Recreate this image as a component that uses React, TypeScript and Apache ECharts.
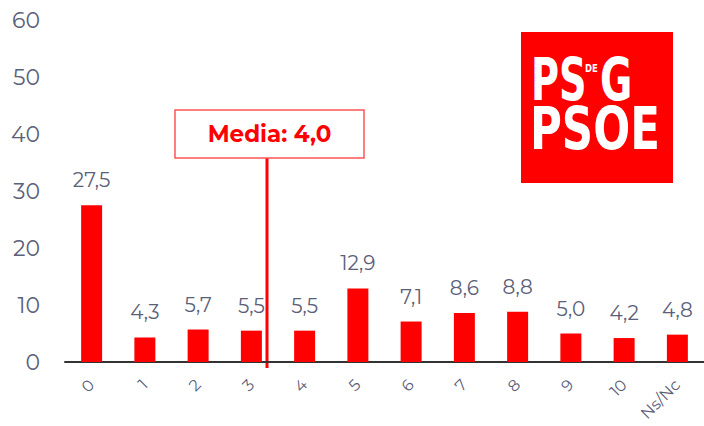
import React, { useEffect, useRef } from "react";
import * as echarts from "echarts";

const categories = ["0", "1", "2", "3", "4", "5", "6", "7", "8", "9", "10", "Ns/Nc"];
const values = [27.5, 4.3, 5.7, 5.5, 5.5, 12.9, 7.1, 8.6, 8.8, 5.0, 4.2, 4.8];
const meanLabel = "Media: 4,0";
const yMax = 60;
const yInterval = 10;

const GRAY = "#5b6079";
const RED = "#ff0000";
const FONT = "Montserrat, 'Noto Sans', Lato, sans-serif";
const LOGO_FONT = "'DejaVu Sans', sans-serif";

export default function App() {
  const ref = useRef<HTMLDivElement>(null);
  useEffect(() => {
    if (!ref.current) return;
    const chart = echarts.init(ref.current, null, { renderer: "svg" });
    const big = `bold 58px ${LOGO_FONT}`;
    chart.setOption({
      animation: false,
      backgroundColor: "#ffffff",
      grid: { left: 65, right: 0, top: 20, bottom: 64, containLabel: false },
      xAxis: {
        type: "category",
        data: categories,
        axisLine: { show: true, lineStyle: { color: "#333333", width: 2 } },
        axisTick: { show: false },
        axisLabel: { rotate: 45, color: GRAY, fontSize: 16, fontFamily: FONT, margin: 20, interval: 0 },
      },
      yAxis: {
        type: "value",
        min: 0,
        max: yMax,
        interval: yInterval,
        axisLine: { show: false },
        axisTick: { show: false },
        splitLine: { show: false },
        axisLabel: { color: GRAY, fontSize: 22, fontFamily: FONT, margin: 25 },
      },
      series: [
        {
          type: "bar",
          data: values,
          barWidth: 21,
          itemStyle: { color: RED },
          label: {
            show: true,
            position: "top",
            distance: 15,
            color: GRAY,
            fontSize: 20,
            fontFamily: FONT,
            formatter: (p: any) => Number(p.value).toFixed(1).replace(".", ","),
          },
        },
      ],
      graphic: [
        { type: "line", shape: { x1: 267, y1: 158, x2: 267, y2: 368 }, style: { stroke: RED, lineWidth: 3 } },
        {
          type: "rect",
          shape: { x: 175, y: 110, width: 189, height: 48 },
          style: { fill: "#ffffff", stroke: "#ff5555", lineWidth: 1.5 },
        },
        {
          type: "text",
          x: 269.5,
          y: 134,
          style: {
            text: meanLabel,
            fill: RED,
            font: `bold 23px ${FONT}`,
            align: "center",
            verticalAlign: "middle",
          },
        },
        { type: "rect", shape: { x: 521, y: 32, width: 152, height: 151 }, style: { fill: RED } },
        {
          type: "text",
          x: 531,
          y: 80,
          scaleX: 0.66,
          style: { text: "PS", fill: "#ffffff", font: big, align: "left", verticalAlign: "middle" },
        },
        {
          type: "text",
          x: 585,
          y: 68,
          scaleX: 0.85,
          style: { text: "DE", fill: "#ffffff", font: `bold 10px ${LOGO_FONT}`, align: "left", verticalAlign: "middle" },
        },
        {
          type: "text",
          x: 600,
          y: 80,
          scaleX: 0.68,
          style: { text: "G", fill: "#ffffff", font: big, align: "left", verticalAlign: "middle" },
        },
        {
          type: "text",
          x: 530,
          y: 129,
          scaleX: 0.75,
          style: { text: "PSOE", fill: "#ffffff", font: big, align: "left", verticalAlign: "middle" },
        },
      ],
    });
    return () => chart.dispose();
  }, []);
  return <div ref={ref} style={{ width: 704, height: 426, position: "absolute", left: 0, top: 0 }} />;
}
